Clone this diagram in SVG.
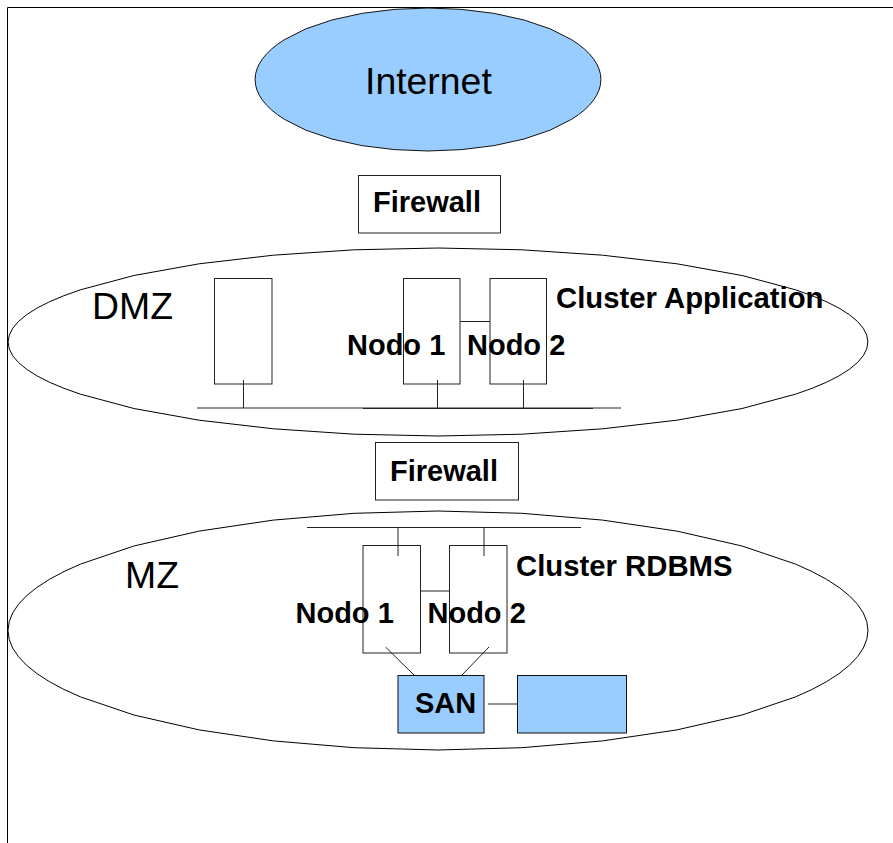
<svg xmlns="http://www.w3.org/2000/svg" width="893" height="843" viewBox="0 0 893 843">
<style>
.s{fill:none;stroke:#000;stroke-width:1}
.w{fill:#fff;stroke:#222;stroke-width:1}
.b{fill:#99ccff;stroke:#111;stroke-width:1}
.l{fill:none;stroke:#222;stroke-width:1}
text{font-family:"Liberation Sans",Arial,sans-serif;fill:#000}
.t{font-size:29px;font-weight:bold}
.c{font-size:29.3px;font-weight:bold}
.z{font-size:37.4px}
</style>
<rect width="893" height="843" fill="#fff"/>
<path id="frame" class="s" d="M7.5 843V7.500H893"/>
<g id="internet"><path class="b" d="M571.8 39.800A173 71.500 0 0 1 571.800 119.200L550.3 130.100 524.100 139 494.200 145.600 461.800 149.600 428 151 394.200 149.600 361.800 145.600 331.900 139 305.700 130.100 284.200 119.200A173 71.500 0 0 1 284.200 39.800L305.700 28.900 331.900 20 361.800 13.400 394.200 9.400 428 8 461.800 9.400 494.200 13.400 524.100 20 550.300 28.900Z"/><text class="z" x="365" y="94">Internet</text></g>
<g id="firewall-1"><rect class="w" x="358.5" y="175.5" width="142" height="57.5"/><text class="t" x="373" y="212">Firewall</text></g>
<g id="dmz"><path class="s" d="M795.5 289.800A430 94 0 0 1 795.500 394.200L742.100 408.500 676.900 420.200 602.600 428.800 521.900 434.200 438 436 354.100 434.200 273.400 428.800 199.100 420.200 133.900 408.500 80.500 394.200A430 94 0 0 1 80.500 289.800L133.900 275.500 199.100 263.800 273.400 255.200 354.100 249.800 438 248 521.900 249.800 602.600 255.200 676.900 263.800 742.100 275.500Z"/><text class="z" x="92" y="319">DMZ</text></g>
<g id="firewall-2"><rect class="w" x="375.5" y="442.5" width="143" height="57.5"/><text class="t" x="390" y="481">Firewall</text></g>
<g id="mz"><path class="s" d="M795.5 564.100A430 119.500 0 0 1 795.500 696.900L742.100 715 676.900 729.900 602.600 740.900 521.900 747.700 438 750 354.100 747.700 273.400 740.900 199.100 729.900 133.900 715 80.500 696.900A430 119.500 0 0 1 80.500 564.100L133.900 546 199.100 531.100 273.400 520.100 354.100 513.300 438 511 521.900 513.300 602.600 520.100 676.900 531.100 742.100 546Z"/><text class="z" x="125" y="588">MZ</text></g>
<g id="dmz-server"><rect class="w" x="214.5" y="278.5" width="57.5" height="105.5"/></g>
<g id="dmz-node-1"><rect class="w" x="403.5" y="278.5" width="56.5" height="105.5"/></g>
<g id="dmz-node-2"><rect class="w" x="490" y="278.5" width="56.5" height="105.5"/></g>
<g id="mz-node-1"><rect class="w" x="363" y="545.5" width="57.5" height="107.5"/></g>
<g id="mz-node-2"><rect class="w" x="449.5" y="545.5" width="57.5" height="107.5"/></g>
<g id="san"><rect class="b" x="398" y="675.5" width="86" height="57.5"/><text class="t" x="415" y="713">SAN</text></g>
<g id="storage"><rect class="b" x="517.5" y="675.5" width="109" height="57.5"/></g>
<g id="connectors">
<path class="l" d="M197 408H621M363 408.500H593M243.500 380V408M437.500 380V408M523.500 380V408M460 321.500H490"/>
<path class="l" d="M307 527.500H581M398 527.500V556M484 527.500V556M420.500 591H449.500M385.500 647L414.500 675.500M489 647L461.500 675.500M488 704H517.500"/>
</g>
<g id="labels">
<text class="t" x="347" y="355">Nodo 1</text>
<text class="t" x="467" y="355">Nodo 2</text>
<text class="c" x="556" y="308">Cluster Application</text>
<text class="t" x="295.500" y="623">Nodo 1</text>
<text class="t" x="427.500" y="623">Nodo 2</text>
<text class="c" x="516" y="576">Cluster RDBMS</text>
</g>
</svg>
